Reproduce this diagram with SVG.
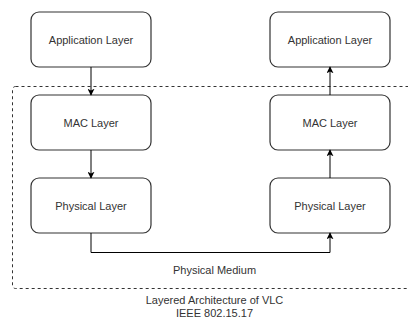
<svg xmlns="http://www.w3.org/2000/svg" width="408" height="320" viewBox="0 0 408 320">
<defs>
<marker id="arr" viewBox="0 0 10 10" refX="9" refY="5" markerWidth="7" markerHeight="7" markerUnits="userSpaceOnUse" orient="auto">
<path d="M0,0 L10,5 L0,10 L2.5,5 Z" fill="#000"/>
</marker>
<style>
.box{fill:#fff;stroke:#333;stroke-width:1.2}
.lbl{font-family:"Liberation Sans",Arial,sans-serif;font-size:11px;fill:#333;text-anchor:middle}
.con{fill:none;stroke:#000;stroke-width:1;marker-end:url(#arr)}
</style>
</defs>
<rect width="408" height="320" fill="#fff"/>
<g id="boundary">
<rect x="12.5" y="86.5" width="420" height="202" rx="3" fill="none" stroke="#333" stroke-width="1" stroke-dasharray="3,3"/>
</g>
<g id="app-left"><rect class="box" x="31" y="12" width="120" height="55" rx="8"/><text class="lbl" x="91" y="43.5">Application Layer</text></g>
<g id="mac-left"><rect class="box" x="31" y="95" width="120" height="55" rx="8"/><text class="lbl" x="91" y="126.5">MAC Layer</text></g>
<g id="phy-left"><rect class="box" x="31" y="178" width="120" height="55" rx="8"/><text class="lbl" x="91" y="209.5">Physical Layer</text></g>
<g id="app-right"><rect class="box" x="270" y="12" width="120" height="55" rx="8"/><text class="lbl" x="330" y="43.5">Application Layer</text></g>
<g id="mac-right"><rect class="box" x="270" y="95" width="120" height="55" rx="8"/><text class="lbl" x="330" y="126.5">MAC Layer</text></g>
<g id="phy-right"><rect class="box" x="270" y="178" width="120" height="55" rx="8"/><text class="lbl" x="330" y="209.5">Physical Layer</text></g>
<g id="connectors">
<path class="con" d="M91,67 L91,95"/>
<path class="con" d="M91,150 L91,178"/>
<path class="con" d="M330,95 L330,67"/>
<path class="con" d="M330,178 L330,150"/>
<path class="con" d="M91,233 L91,252.5 L330,252.5 L330,233"/>
</g>
<g id="labels">
<text class="lbl" x="214.5" y="274">Physical Medium</text>
<text class="lbl" x="214.5" y="304">Layered Architecture of VLC</text>
<text class="lbl" x="214.5" y="317">IEEE 802.15.17</text>
</g>
</svg>
